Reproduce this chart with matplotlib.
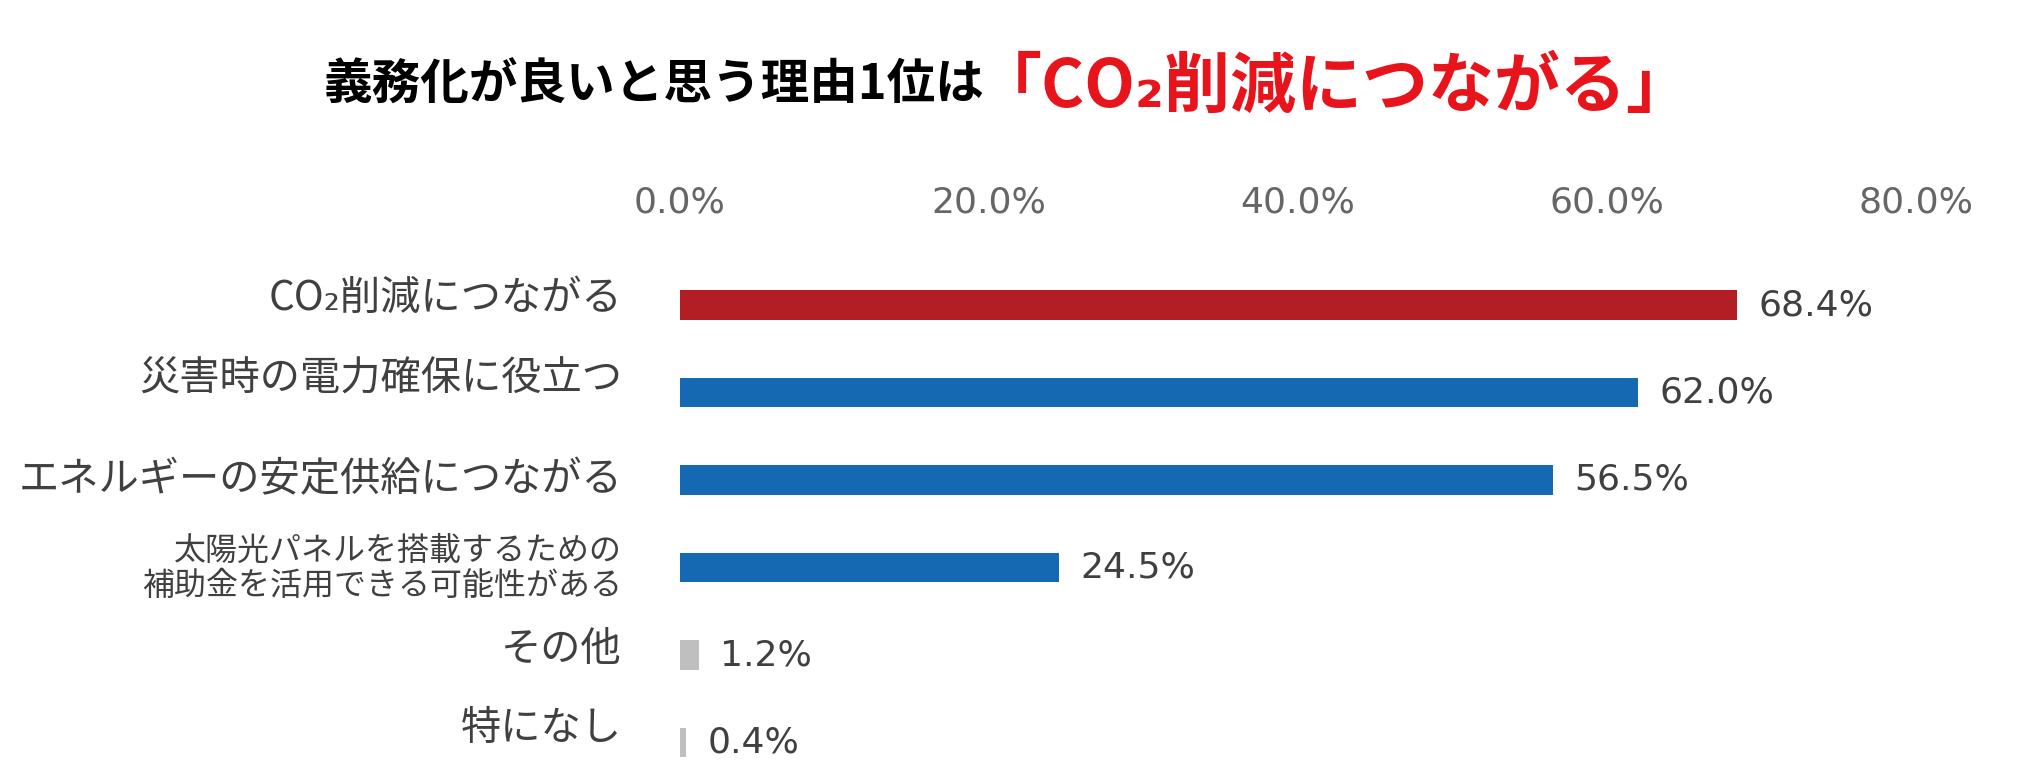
import matplotlib.pyplot as plt
import matplotlib.transforms as mtransforms
import numpy as np

plt.rcParams['font.family'] = ['Noto Sans CJK JP', 'DejaVu Sans']

# data
categories = ["CO₂削減につながる", "災害時の電力確保に役立つ", "エネルギーの安定供給につながる",
              "太陽光パネルを搭載するための\n補助金を活用できる可能性がある", "その他", "特になし"]
values = [68.4, 62.0, 56.5, 24.5, 1.2, 0.4]
bar_colors = ["#B31E24", "#1569B2", "#1569B2", "#1569B2", "#BFBFBF", "#BFBFBF"]
label_sizes = [29, 29, 29, 23, 29, 29]
# label shifts in pixels (labels in the original are not exactly centred on bars)
label_shift = [7, 13, 0, -1, 5, 14]
xticks = [0, 20, 40, 60, 80]

W, H = 2039, 779
fig = plt.figure(figsize=(W / 100, H / 100), dpi=100)

# axes: bar 0 centre at y=305px, spacing 87.5px
top_frac, bottom_frac = 0.70, 0.02
c0 = 1 - 305 / H
step = 87.5 / H
ax = fig.add_axes([680 / W, bottom_frac, (1916 - 680) / W, top_frac - bottom_frac])
ax.set_xlim(0, 80)
ax.set_ylim((c0 - bottom_frac) / step, (c0 - top_frac) / step)

y = np.arange(len(values))
ax.barh(y, values, height=0.34, color=bar_colors)

for yi, v in zip(y, values):
    ax.text(v + 1.4, yi, "{:.1f}%".format(v), va='center', ha='left',
            fontsize=26, color="#404040", family='DejaVu Sans')

# category labels
ax.set_yticks([])
base = mtransforms.blended_transform_factory(ax.transAxes, ax.transData)
for yi, cat, s, sh in zip(y, categories, label_sizes, label_shift):
    tr = base + mtransforms.ScaledTranslation(-58 / 100, sh / 100, fig.dpi_scale_trans)
    ax.text(0, yi, cat, transform=tr, ha='right', va='center', fontsize=s,
            color="#404040", linespacing=1.15, multialignment='right')

ax.xaxis.tick_top()
ax.set_xticks(xticks)
ax.set_xticklabels(["{:.1f}%".format(t) for t in xticks], fontsize=26,
                   color="#666666", family='DejaVu Sans')
ax.tick_params(axis='x', length=0, pad=10)

for sp in ax.spines.values():
    sp.set_visible(False)

# title
fig.text(985 / W, 1 - 85 / H, "義務化が良いと思う理由1位は", ha='right', va='center',
         fontsize=35, fontweight='bold', color='black')
fig.text(976 / W, 1 - 87 / H, "「CO₂削減につながる」", ha='left', va='center',
         fontsize=47.5, fontweight='bold', color='#E8141B')

fig.savefig("out.png", dpi=100)
